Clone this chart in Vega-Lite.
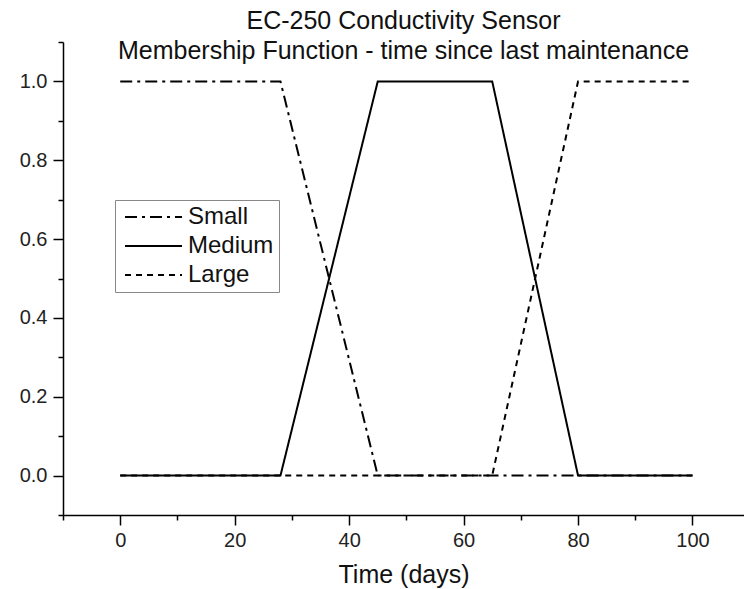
{
  "$schema": "https://vega.github.io/schema/vega-lite/v6.json",
  "autosize": {"type": "none"},
  "padding": {"left": 63, "top": 42, "right": 0, "bottom": 74},
  "width": 681,
  "height": 473,
  "config": {
    "font": "Liberation Sans",
    "view": {"stroke": null},
    "axis": {
      "grid": false,
      "domainColor": "#000",
      "domainWidth": 1.5,
      "tickColor": "#000",
      "tickWidth": 1.5,
      "labelColor": "#222",
      "labelFontSize": 20,
      "titleFontSize": 25,
      "titleFontWeight": "normal",
      "titleColor": "#111"
    }
  },
  "title": {
    "text": ["EC-250 Conductivity Sensor", "Membership Function - time since last maintenance"],
    "fontSize": 25,
    "fontWeight": "normal",
    "color": "#111",
    "anchor": "middle",
    "offset": -23,
    "lineHeight": 30
  },
  "data": {
    "values": [
      {"t": 0, "m": 1, "s": "Small"},
      {"t": 28, "m": 1, "s": "Small"},
      {"t": 45, "m": 0, "s": "Small"},
      {"t": 100, "m": 0, "s": "Small"},
      {"t": 0, "m": 0, "s": "Medium"},
      {"t": 28, "m": 0, "s": "Medium"},
      {"t": 45, "m": 1, "s": "Medium"},
      {"t": 65, "m": 1, "s": "Medium"},
      {"t": 80, "m": 0, "s": "Medium"},
      {"t": 100, "m": 0, "s": "Medium"},
      {"t": 0, "m": 0, "s": "Large"},
      {"t": 65, "m": 0, "s": "Large"},
      {"t": 80, "m": 1, "s": "Large"},
      {"t": 100, "m": 1, "s": "Large"}
    ]
  },
  "encoding": {
    "strokeDash": {
      "field": "s", "type": "nominal",
      "scale": {"domain": ["Small", "Medium", "Large"], "range": [[12, 5, 3, 5], [2, 0], [6, 5]]},
      "legend": {
        "title": null,
        "orient": "none",
        "legendX": 52,
        "legendY": 158,
        "strokeColor": "#888",
        "fillColor": "white",
        "padding": 5,
        "symbolType": "M-0.7,0H5",
        "symbolSize": 400,
        "symbolStrokeWidth": 2,
        "symbolStrokeColor": "#000",
        "labelFontSize": 24,
        "labelColor": "#111",
        "labelOffset": 44,
        "rowPadding": 5
      }
    }
  },
  "layer": [
    {
      "transform": [{"filter": "datum.s === 'Large'"}],
      "mark": {"type": "line", "color": "#000", "strokeWidth": 2},
      "encoding": {
        "x": {
          "field": "t", "type": "quantitative",
          "scale": {"domain": [-10, 109], "nice": false, "zero": false},
          "axis": {
            "orient": "bottom",
            "title": "Time (days)",
            "values": [0, 20, 40, 60, 80, 100],
            "tickSize": 10,
            "labelPadding": 5,
            "titlePadding": 12
          }
        },
        "y": {
          "field": "m", "type": "quantitative",
          "scale": {"domain": [-0.1, 1.1], "nice": false, "zero": false},
          "axis": {
            "orient": "left",
            "title": null,
            "values": [0, 0.2, 0.4, 0.6, 0.8, 1.0],
            "format": ".1f",
            "tickSize": 10,
            "labelPadding": 6
          }
        }
      }
    },
    {
      "transform": [{"filter": "datum.s === 'Small'"}],
      "mark": {"type": "line", "color": "#000", "strokeWidth": 2},
      "encoding": {
        "x": {
          "field": "t", "type": "quantitative",
          "axis": {
            "orient": "bottom",
            "title": null,
            "values": [-10, 10, 30, 50, 70, 90],
            "labels": false,
            "domain": false,
            "tickSize": 5
          }
        },
        "y": {
          "field": "m", "type": "quantitative",
          "axis": {
            "orient": "left",
            "title": null,
            "values": [-0.1, 0.1, 0.3, 0.5, 0.7, 0.9, 1.1],
            "labels": false,
            "domain": false,
            "tickSize": 5
          }
        }
      }
    },
    {
      "transform": [{"filter": "datum.s === 'Medium'"}],
      "mark": {"type": "line", "color": "#000", "strokeWidth": 2},
      "encoding": {
        "x": {"field": "t", "type": "quantitative", "axis": null},
        "y": {"field": "m", "type": "quantitative", "axis": null}
      }
    }
  ],
  "resolve": {"axis": {"x": "independent", "y": "independent"}}
}
